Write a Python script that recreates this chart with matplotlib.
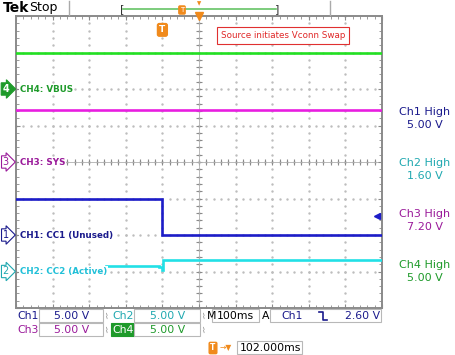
import numpy as np
import matplotlib
matplotlib.use("Agg")
import matplotlib.pyplot as plt

# Channel traces (time in ms relative to trigger, volts)
ch1_t = [-400, 0, 0, 600]
ch1_v = [5.0, 5.0, 0.0, 0.0]
ch2_t = [-154, -8, -8, -2, -2, 2, 2, 600]
ch2_v = [0.75, 0.75, 0.6, 0.6, 0.25, 0.25, 1.6, 1.6]
ch3_t = [-400, 600]
ch3_v = [7.1, 7.1]
ch4_t = [-400, 600]
ch4_v = [5.0, 5.0]

# Scope settings
volts_div = [5.0, 5.0, 5.0, 5.0]
offsets = [-2.0, -3.0, 0.0, 2.0]     # ground marker position (div)
ms_div = 100.0
trig_pos = 4.0                        # trigger at 4 div from left
trig_level = 2.60
labels = ["CH1: CC1 (Unused)", "CH2: CC2 (Active)", "CH3: SYS", "CH4: VBUS"]
high_vals = ["5.00 V", "1.60 V", "7.20 V", "5.00 V"]

c_ch1 = "#1c1cc8"
c_ch2 = "#22e0e6"
c_ch3 = "#e81ee0"
c_ch4 = "#22e022"
t_ch1 = "#1a1a8c"
t_ch2 = "#1fa8b0"
t_ch3 = "#9a1a9a"
t_ch4 = "#1e9a2a"
orange = "#f08a1c"

W, H = 455, 355
fig = plt.figure(figsize=(W / 100, H / 100), dpi=100)
fig.patch.set_facecolor("white")


def px(x, y):
    return x / W, 1 - y / H


ax = fig.add_axes([16 / W, 47 / H, 366 / W, 292 / H])
ax.set_xlim(0, 10)
ax.set_ylim(-4, 4)
for s in ax.spines.values():
    s.set_color("#8a8a8a")
    s.set_linewidth(1.4)
ax.set_xticks(np.arange(0, 10.01, 1))
ax.set_yticks(np.arange(-4, 4.01, 1))
ax.set_xticks(np.arange(0, 10.01, 0.2), minor=True)
ax.set_yticks(np.arange(-4, 4.01, 0.2), minor=True)
ax.tick_params(which="both", direction="in", top=True, right=True,
               labelbottom=False, labelleft=False, color="#8a8a8a")
ax.tick_params(which="major", length=3)
ax.tick_params(which="minor", length=2)

# dotted graticule
dots = np.arange(-4, 4.01, 0.2)
for xi in range(1, 10):
    ax.plot([xi] * len(dots), dots, ls="none", marker="s", ms=0.7, color="#bdbdbd", zorder=1)
dots_x = np.arange(0, 10.01, 0.2)
for yi in range(-3, 4):
    ax.plot(dots_x, [yi] * len(dots_x), ls="none", marker="s", ms=0.7, color="#bdbdbd", zorder=1)
# centre cross with ticks
ax.plot(dots_x, [0] * len(dots_x), ls="none", marker="|", ms=4, mew=0.8, color="#8a8a8a", zorder=1)
ax.plot([5] * len(dots), dots, ls="none", marker="_", ms=4, mew=0.8, color="#8a8a8a", zorder=1)
ax.axhline(0, color="#b0b0b0", lw=0.6, zorder=1)
ax.axvline(5, color="#b0b0b0", lw=0.6, zorder=1)

traces = [(ch1_t, ch1_v, c_ch1), (ch2_t, ch2_v, c_ch2), (ch3_t, ch3_v, c_ch3), (ch4_t, ch4_v, c_ch4)]
for i, (t, v, c) in enumerate(traces):
    x = np.array(t) / ms_div + trig_pos
    y = offsets[i] + np.array(v) / volts_div[i]
    ax.plot(x, y, color=c, lw=1.9, zorder=3, solid_joinstyle="miter")

# trigger level arrow on right edge
ax.plot(9.85, offsets[0] + trig_level / volts_div[0], marker="<", ms=4, color=c_ch1,
        clip_on=False, zorder=4)

# channel ground markers and labels
mark_cols = [t_ch1, t_ch2, t_ch3, t_ch4]
for i in range(4):
    ytxt = offsets[i]
    if i == 3:
        ax.text(-0.28, ytxt, "4", color="white", fontsize=7, fontweight="bold", ha="center",
                va="center", clip_on=False, zorder=5,
                bbox=dict(boxstyle="rarrow,pad=0.12", fc=t_ch4, ec=t_ch4, lw=0.8))
    else:
        ax.text(-0.28, ytxt, str(i + 1), color=mark_cols[i], fontsize=7, ha="center",
                va="center", clip_on=False, zorder=5,
                bbox=dict(boxstyle="rarrow,pad=0.12", fc="white", ec=mark_cols[i], lw=0.8))
    ax.text(0.1, ytxt, labels[i], color=mark_cols[i] if i != 1 else "#22c0d8", fontsize=6.3,
            fontweight="bold", ha="left", va="center", zorder=5,
            bbox=dict(boxstyle="square,pad=0.1", fc="white", ec="none"))

# trigger position T marker
ax.text(trig_pos, 3.62, "T", color="white", fontsize=6.5, fontweight="bold", ha="center",
        va="center", zorder=5, bbox=dict(boxstyle="round,pad=0.2", fc=orange, ec=orange))
ax.plot(5.0, 4.0, marker="v", ms=6, color=orange, clip_on=False, zorder=6)

# annotation box
ax.text(7.3, 3.47, "Source initiates Vconn Swap", color="#e02828", fontsize=6.3,
        ha="center", va="center", zorder=5,
        bbox=dict(boxstyle="square,pad=0.45", fc="white", ec="#e03030", lw=0.8))

# header
fig.text(*px(3, 8), "Tek", fontsize=10, fontweight="bold", ha="left", va="center")
fig.text(*px(29, 8), "Stop", fontsize=9, ha="left", va="center")
fig.add_artist(plt.Line2D([69 / W, 69 / W], [1 - 1 / H, 1 - 15 / H], color="#aaaaaa", lw=1))
fig.add_artist(plt.Line2D([330 / W, 330 / W], [1 - 1 / H, 1 - 15 / H], color="#aaaaaa", lw=1))
fig.add_artist(plt.Line2D([123 / W, 276 / W], [1 - 9 / H, 1 - 9 / H], color="#66c466", lw=1.2))
fig.text(*px(122, 9), "[", fontsize=8, ha="center", va="center", color="#333333")
fig.text(*px(277, 9), "]", fontsize=8, ha="center", va="center", color="#333333")
fig.text(*px(182, 10), "T", fontsize=5, ha="center", va="center", color="white",
         bbox=dict(boxstyle="round,pad=0.15", fc=orange, ec=orange))
fig.text(*px(199, 4), "\u25bc", fontsize=4, ha="center", va="center", color=orange)

# right side readouts
high_cols = [t_ch1, t_ch2, t_ch3, t_ch4]
for i in range(4):
    y0 = 112 + i * 51
    fig.text(*px(425, y0), f"Ch{i + 1} High", color=high_cols[i], fontsize=8,
             ha="center", va="center")
    fig.text(*px(425, y0 + 13), high_vals[i], color=high_cols[i], fontsize=8,
             ha="center", va="center")

# bottom status bar
def box(x0, x1, y0, y1, fc="white", ec="#b8b8b8"):
    fig.add_artist(plt.Rectangle((x0 / W, 1 - y1 / H), (x1 - x0) / W, (y1 - y0) / H,
                                 transform=fig.transFigure, fc=fc, ec=ec, lw=0.8))


fs = 7.8
box(39, 103, 309, 322)
box(134, 200, 309, 322)
box(212, 259, 309, 322)
box(270, 381, 309, 322)
box(39, 103, 323, 336)
box(111, 134, 323, 336, fc="#1e9a2a", ec="#1e9a2a")
box(134, 200, 323, 336)
box(237, 302, 341, 354)

fig.text(*px(17, 316), "Ch1", color=t_ch1, fontsize=fs, ha="left", va="center")
fig.text(*px(72, 316), "5.00 V", color=t_ch1, fontsize=fs, ha="center", va="center")
fig.text(*px(107, 316), "\u2307", color="#888888", fontsize=5.5, ha="center", va="center")
fig.text(*px(112, 316), "Ch2", color=t_ch2, fontsize=fs, ha="left", va="center")
fig.text(*px(168, 316), "5.00 V", color=t_ch2, fontsize=fs, ha="center", va="center")
fig.text(*px(204, 316), "\u2307", color="#888888", fontsize=5.5, ha="center", va="center")
fig.text(*px(207, 316), "M", color="black", fontsize=fs, ha="left", va="center")
fig.text(*px(235, 316), "100ms", color="black", fontsize=fs, ha="center", va="center")
fig.text(*px(266, 316), "A", color="black", fontsize=fs, ha="center", va="center")
fig.text(*px(281, 316), "Ch1", color=t_ch1, fontsize=fs, ha="left", va="center")
# falling-edge trigger slope symbol
fig.add_artist(plt.Line2D([px(319, 0)[0], px(323, 0)[0], px(323, 0)[0], px(327, 0)[0]],
                          [px(0, 312)[1], px(0, 312)[1], px(0, 320)[1], px(0, 320)[1]],
                          color=t_ch1, lw=1.2))
fig.text(*px(380, 316), f"{trig_level:.2f} V", color=t_ch1, fontsize=fs, ha="right", va="center")

fig.text(*px(17, 330), "Ch3", color=t_ch3, fontsize=fs, ha="left", va="center")
fig.text(*px(72, 330), "5.00 V", color=t_ch3, fontsize=fs, ha="center", va="center")
fig.text(*px(107, 330), "\u2307", color="#888888", fontsize=5.5, ha="center", va="center")
fig.text(*px(112, 330), "Ch4", color="white", fontsize=fs, ha="left", va="center")
fig.text(*px(168, 330), "5.00 V", color=t_ch4, fontsize=fs, ha="center", va="center")
fig.text(*px(204, 330), "\u2307", color="#888888", fontsize=5.5, ha="center", va="center")

fig.text(*px(213, 348), "T", color="white", fontsize=5.5, fontweight="bold", ha="center",
         va="center", bbox=dict(boxstyle="round,pad=0.15", fc=orange, ec=orange))
fig.text(*px(226, 348), "\u2192\u25bc", color=orange, fontsize=5.5, ha="center", va="center")
fig.text(*px(270, 348), "102.000ms", color="black", fontsize=fs, ha="center", va="center")

fig.savefig("out.png", dpi=100)
